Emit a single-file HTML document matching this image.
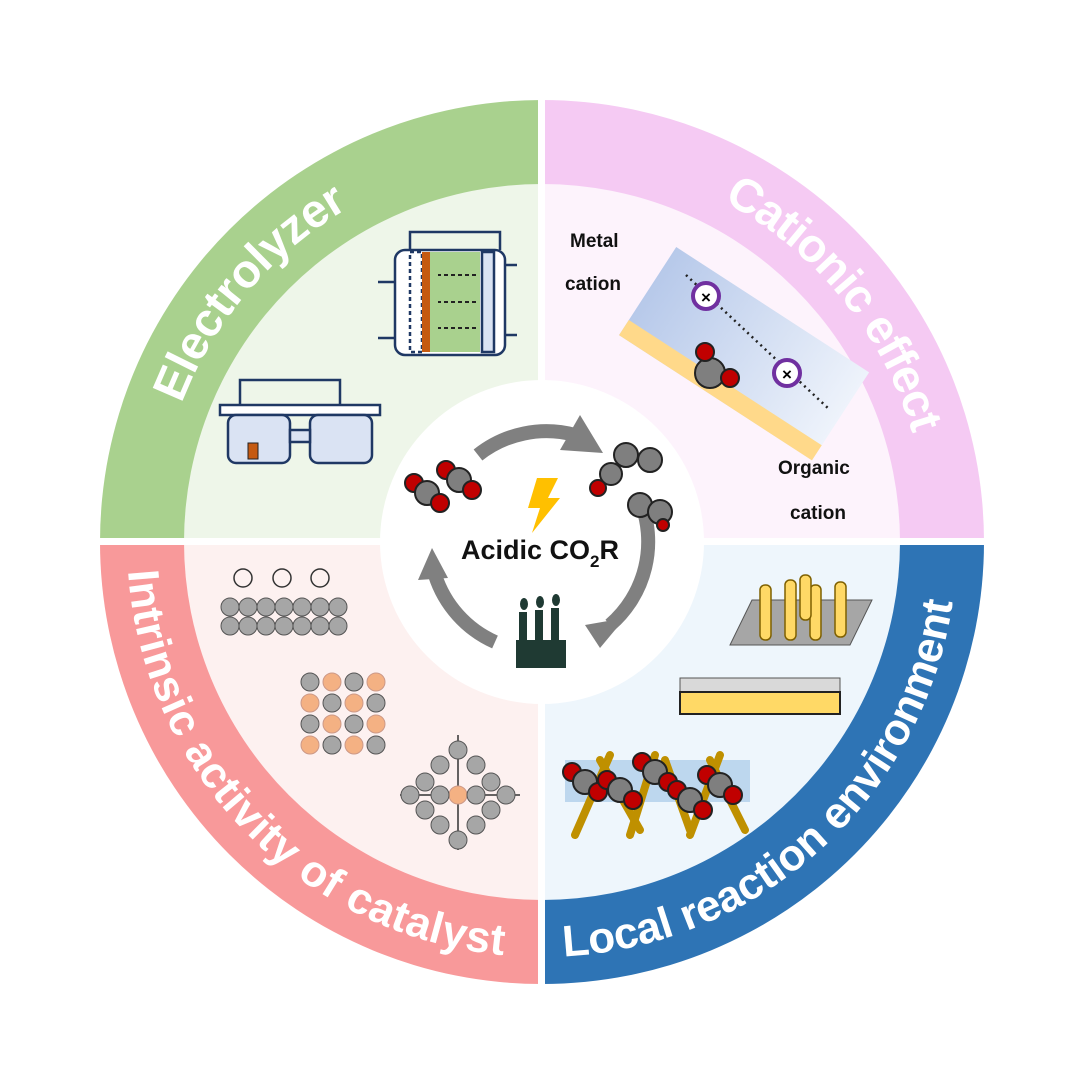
<!DOCTYPE html>
<html><head><meta charset="utf-8"><style>
html,body{margin:0;padding:0;background:#fff}
svg{display:block}
text{font-family:"Liberation Sans",Arial,sans-serif;font-weight:bold}
</style></head><body>
<svg width="1085" height="1085" viewBox="0 0 1085 1085" xmlns="http://www.w3.org/2000/svg">
<defs>
<linearGradient id="bg" x1="0" y1="0" x2="1" y2="0"><stop offset="0" stop-color="#b7c9ea"/><stop offset="1" stop-color="#eef3fb"/></linearGradient>
<path id="p1" d="M181.6 403.7 A386 386 0 0 1 349 207.7"/>
<path id="p2" d="M723.2 201.2 A386 386 0 0 1 913.1 435.6"/>
<path id="p3" d="M128 571 A415 415 0 0 0 505.8 955.4"/>
<path id="p4" d="M563.7 956.4 A415 415 0 0 0 953 599.8"/>
<g id="co2"><circle cx="-13" cy="-10" r="9" fill="#c00000" stroke="#222" stroke-width="2"/><circle cx="0" cy="0" r="12" fill="#7f7f7f" stroke="#222" stroke-width="2"/><circle cx="13" cy="10" r="9" fill="#c00000" stroke="#222" stroke-width="2"/></g>
<g id="ball"><circle r="9" fill="#a6a6a6" stroke="#555" stroke-width="1"/></g>
<g id="oball"><circle r="9" fill="#f4b183" stroke="#c98" stroke-width="1"/></g>
</defs>
<path d="M542 542 L100 542 A442 442 0 0 1 542 100 Z" fill="#a9d18e"/>
<path d="M542 542 L542 100 A442 442 0 0 1 984 542 Z" fill="#f5caf3"/>
<path d="M542 542 L984 542 A442 442 0 0 1 542 984 Z" fill="#2e74b5"/>
<path d="M542 542 L542 984 A442 442 0 0 1 100 542 Z" fill="#f8999a"/>
<path d="M542 542 L184 542 A358 358 0 0 1 542 184 Z" fill="#eef6e9"/>
<path d="M542 542 L542 184 A358 358 0 0 1 900 542 Z" fill="#fdf3fc"/>
<path d="M542 542 L900 542 A358 358 0 0 1 542 900 Z" fill="#eef6fc"/>
<path d="M542 542 L542 900 A358 358 0 0 1 184 542 Z" fill="#fdf1f0"/>
<rect x="538" y="95" width="7" height="895" fill="#fff"/>
<rect x="95" y="538" width="895" height="7" fill="#fff"/>
<circle cx="542" cy="542" r="162" fill="#fff"/>
<text font-size="47" fill="#fff"><textPath href="#p1" textLength="262" lengthAdjust="spacing">Electrolyzer</textPath></text>
<text font-size="47" fill="#fff"><textPath href="#p2" textLength="308" lengthAdjust="spacing">Cationic effect</textPath></text>
<text font-size="44" fill="#fff"><textPath href="#p3" textLength="584" lengthAdjust="spacing">Intrinsic activity of catalyst</textPath></text>
<text font-size="44" fill="#fff"><textPath href="#p4" textLength="570" lengthAdjust="spacing">Local reaction environment</textPath></text>
<g fill="none" stroke="#808080" stroke-width="14">
<path d="M478 455 A110 110 0 0 1 575 435"/>
<path d="M640 500 A110 110 0 0 1 610 625"/>
<path d="M495 642 A110 110 0 0 1 435 575"/>
</g>
<polygon points="580,415 603,453 560,450" fill="#808080"/>
<polygon points="585,625 625,618 600,648" fill="#808080"/>
<polygon points="418,580 448,578 432,548" fill="#808080"/>
<polygon points="537,478 558,478 548,498 560,498 532,533 540,508 528,508" fill="#ffc000"/>
<text x="540" y="559" font-size="27" fill="#111" text-anchor="middle">Acidic CO<tspan font-size="17" dy="8">2</tspan><tspan dy="-8">R</tspan></text>
<use href="#co2" x="427" y="493"/><use href="#co2" x="459" y="480"/>
<g stroke="#222" stroke-width="2"><circle cx="611" cy="474" r="11" fill="#7f7f7f"/><circle cx="598" cy="488" r="8" fill="#c00000"/>
<circle cx="626" cy="455" r="12" fill="#7f7f7f"/><circle cx="650" cy="460" r="12" fill="#7f7f7f"/>
<circle cx="640" cy="505" r="12" fill="#7f7f7f"/><circle cx="660" cy="512" r="12" fill="#7f7f7f"/><circle cx="663" cy="525" r="6" fill="#c00000"/></g>
<g fill="#1f3a33"><rect x="516" y="640" width="50" height="28"/><rect x="519" y="612" width="8" height="30"/><rect x="535" y="610" width="8" height="32"/><rect x="551" y="608" width="8" height="34"/><ellipse cx="524" cy="604" rx="4" ry="6"/><ellipse cx="540" cy="602" rx="4" ry="6"/><ellipse cx="556" cy="600" rx="4" ry="6"/></g>
<g stroke="#1f3864" stroke-width="2.5" fill="none">
<rect x="395" y="250" width="110" height="105" rx="10" fill="#fff"/>
<rect x="430" y="252" width="50" height="100" fill="#a9d18e" stroke="none"/>
<rect x="410" y="252" width="12" height="100" fill="#fff" stroke-dasharray="4 3"/>
<rect x="422" y="252" width="8" height="100" fill="#c55a11" stroke="none"/>
<rect x="482" y="252" width="12" height="100" fill="#dae3f3"/>
<path d="M410 250 V232 H500 V250"/>
<path d="M395 282 H378 M395 338 H378 M505 265 H517 M505 335 H517"/>
<rect x="220" y="405" width="160" height="10" fill="#fff"/>
<rect x="228" y="415" width="62" height="48" rx="8" fill="#dae3f3"/>
<rect x="310" y="415" width="62" height="48" rx="8" fill="#dae3f3"/>
<rect x="290" y="430" width="20" height="12" fill="#dae3f3"/>
<path d="M240 405 V380 H340 V405"/>
</g>
<g stroke="#222" stroke-width="2" stroke-dasharray="4 3"><path d="M476 275 H438 M476 302 H438 M476 328 H438"/></g>
<rect x="248" y="443" width="10" height="16" fill="#c55a11" stroke="#222"/>
<text x="570" y="247" font-size="19" fill="#111">Metal</text>
<text x="565" y="290" font-size="19" fill="#111">cation</text>
<text x="778" y="474" font-size="19" fill="#111">Organic</text>
<text x="790" y="519" font-size="19" fill="#111">cation</text>
<g transform="rotate(33 740 360)">
<rect x="625" y="300" width="230" height="105" fill="url(#bg)"/>
<rect x="625" y="387" width="230" height="18" fill="#ffd98a"/>
</g>
<line x1="686" y1="275" x2="830" y2="410" stroke="#222" stroke-width="2.5" stroke-dasharray="2 4"/>
<circle cx="706" cy="296" r="13" fill="#fff" stroke="#7030a0" stroke-width="4"/><text x="706" y="303" font-size="17" text-anchor="middle">×</text>
<circle cx="787" cy="373" r="13" fill="#fff" stroke="#7030a0" stroke-width="4"/><text x="787" y="380" font-size="17" text-anchor="middle">×</text>
<g stroke="#222" stroke-width="2"><circle cx="710" cy="373" r="15" fill="#7f7f7f"/><circle cx="705" cy="352" r="9" fill="#c00000"/><circle cx="730" cy="378" r="9" fill="#c00000"/></g>
<g>
<use href="#ball" x="230" y="607"/><use href="#ball" x="248" y="607"/><use href="#ball" x="266" y="607"/><use href="#ball" x="284" y="607"/><use href="#ball" x="302" y="607"/><use href="#ball" x="320" y="607"/><use href="#ball" x="338" y="607"/>
<use href="#ball" x="230" y="626"/><use href="#ball" x="248" y="626"/><use href="#ball" x="266" y="626"/><use href="#ball" x="284" y="626"/><use href="#ball" x="302" y="626"/><use href="#ball" x="320" y="626"/><use href="#ball" x="338" y="626"/>
</g>
<g fill="none" stroke="#333" stroke-width="1.5"><circle cx="243" cy="578" r="9"/><circle cx="282" cy="578" r="9"/><circle cx="320" cy="578" r="9"/></g>
<g>
<use href="#ball" x="310" y="682"/><use href="#oball" x="332" y="682"/><use href="#ball" x="354" y="682"/><use href="#oball" x="376" y="682"/>
<use href="#oball" x="310" y="703"/><use href="#ball" x="332" y="703"/><use href="#oball" x="354" y="703"/><use href="#ball" x="376" y="703"/>
<use href="#ball" x="310" y="724"/><use href="#oball" x="332" y="724"/><use href="#ball" x="354" y="724"/><use href="#oball" x="376" y="724"/>
<use href="#oball" x="310" y="745"/><use href="#ball" x="332" y="745"/><use href="#oball" x="354" y="745"/><use href="#ball" x="376" y="745"/>
</g>
<g stroke="#333" stroke-width="1.5"><path d="M458 735 V850 M400 795 H520"/></g>
<g>
<use href="#ball" x="458" y="750"/><use href="#ball" x="440" y="765"/><use href="#ball" x="476" y="765"/><use href="#ball" x="425" y="782"/><use href="#ball" x="491" y="782"/>
<use href="#ball" x="410" y="795"/><use href="#ball" x="506" y="795"/><use href="#oball" x="458" y="795"/><use href="#ball" x="440" y="795"/><use href="#ball" x="476" y="795"/>
<use href="#ball" x="425" y="810"/><use href="#ball" x="491" y="810"/><use href="#ball" x="440" y="825"/><use href="#ball" x="476" y="825"/><use href="#ball" x="458" y="840"/>
</g>
<polygon points="730,645 850,645 872,600 752,600" fill="#a6a6a6" stroke="#555"/>
<g fill="#ffd966" stroke="#7f6000" stroke-width="1.5">
<rect x="760" y="585" width="11" height="55" rx="5"/><rect x="785" y="580" width="11" height="60" rx="5"/><rect x="810" y="585" width="11" height="55" rx="5"/><rect x="835" y="582" width="11" height="55" rx="5"/><rect x="800" y="575" width="11" height="45" rx="5"/>
</g>
<rect x="680" y="678" width="160" height="14" fill="#d9d9d9" stroke="#555"/>
<rect x="680" y="692" width="160" height="22" fill="#ffd966" stroke="#222" stroke-width="2"/>
<rect x="565" y="760" width="185" height="42" fill="#bdd7ee"/>
<g stroke="#bf9000" stroke-width="8" stroke-linecap="round">
<line x1="575" y1="835" x2="610" y2="755"/><line x1="600" y1="760" x2="640" y2="830"/><line x1="630" y1="835" x2="655" y2="755"/><line x1="665" y1="760" x2="690" y2="830"/><line x1="690" y1="835" x2="720" y2="755"/><line x1="710" y1="760" x2="745" y2="830"/>
</g>
<use href="#co2" x="585" y="782"/><use href="#co2" x="620" y="790"/><use href="#co2" x="655" y="772"/><use href="#co2" x="690" y="800"/><use href="#co2" x="720" y="785"/>
</svg>
</body></html>
